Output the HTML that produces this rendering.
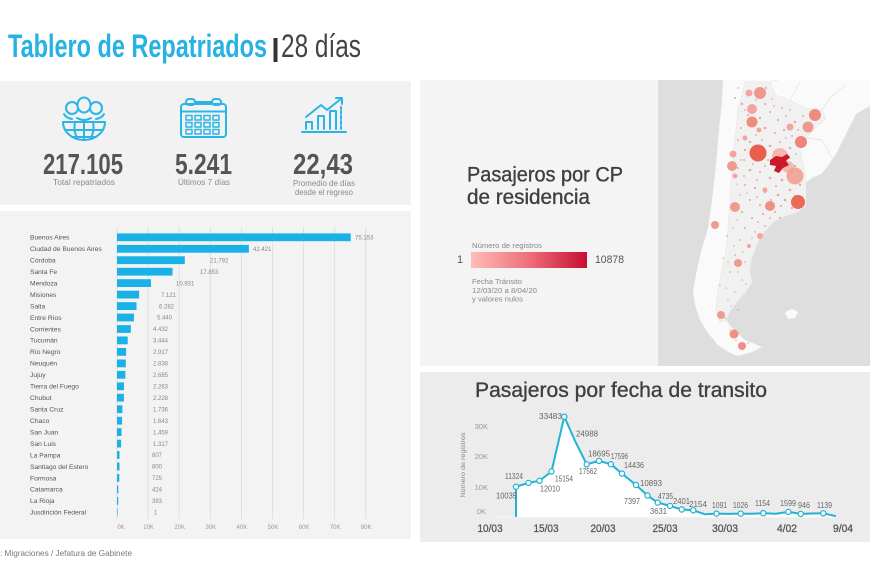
<!DOCTYPE html>
<html><head><meta charset="utf-8"><style>
html,body{margin:0;padding:0;background:#fff;}
svg{display:block;}
</style></head><body>
<svg width="870" height="580" viewBox="0 0 870 580" xmlns="http://www.w3.org/2000/svg" font-family="'Liberation Sans', sans-serif">
<defs>
<linearGradient id="lg" x1="0" x2="1" y1="0" y2="0">
<stop offset="0" stop-color="#fdbdb5"/><stop offset="0.5" stop-color="#ef6f79"/><stop offset="1" stop-color="#c70d33"/>
</linearGradient>
</defs>
<rect width="870" height="580" fill="#fff"/>

<!-- Title -->
<text x="8" y="57" font-size="32" font-weight="bold" fill="#27b2e2" textLength="259" lengthAdjust="spacingAndGlyphs">Tablero de Repatriados</text>
<rect x="273.5" y="38" width="4" height="24" fill="#333"/>
<text x="281" y="57" font-size="32" fill="#444" textLength="80" lengthAdjust="spacingAndGlyphs">28 días</text>

<!-- KPI panel -->
<rect x="0" y="81" width="411" height="124" fill="#f2f2f2"/>
<g fill="none" stroke="#29b6e6" stroke-width="2" stroke-linejoin="round" stroke-linecap="round">
  <circle cx="72" cy="108" r="6"/>
  <circle cx="96" cy="108" r="6"/>
  <ellipse cx="84" cy="105" rx="6.5" ry="7.5" fill="#f2f2f2"/>
  <path d="M64,114 Q66,118 72,119 M104,114 Q102,118 96,119 M77,118 Q84,122 91,118"/>
  <path d="M63,122 A21,18 0 0 0 105,122 Z" fill="#f2f2f2"/>
  <path d="M66,130 H102 M72,137 H96 M84,122 V140 M75,122 Q73,132 78,139 M93,122 Q95,132 90,139"/>
  <rect x="181" y="104" width="45" height="33" rx="3"/>
  <line x1="181" y1="111.5" x2="226" y2="111.5"/>
  <rect x="186" y="99" width="9" height="6" rx="3"/>
  <rect x="212" y="99" width="9" height="6" rx="3"/>
  <line x1="195" y1="102" x2="212" y2="102"/>
  <g stroke-width="1.5">
    <rect x="186" y="115.5" width="6" height="4.5"/><rect x="195" y="115.5" width="6" height="4.5"/><rect x="204" y="115.5" width="6" height="4.5"/><rect x="213" y="115.5" width="6" height="4.5"/>
    <rect x="186" y="122.5" width="6" height="4.5"/><rect x="195" y="122.5" width="6" height="4.5"/><rect x="204" y="122.5" width="6" height="4.5"/><rect x="213" y="122.5" width="6" height="4.5"/>
    <rect x="186" y="129.5" width="6" height="4.5"/><rect x="195" y="129.5" width="6" height="4.5"/><rect x="204" y="129.5" width="6" height="4.5"/><rect x="213" y="129.5" width="6" height="4.5"/>
  </g>
  <line x1="302" y1="132" x2="346" y2="132"/>
  <path d="M306,129 V122 H312 V129 M318,129 V116 H324 V129 M330,129 V111 H336 V129"/>
  <path d="M341,129 V107" stroke-dasharray="3,2"/>
  <path d="M306,117 L321,105 L327,110 L342,98"/>
  <path d="M336,98 H342 V104"/>
</g>
<g font-weight="bold" fill="#555" font-size="29" text-anchor="middle">
  <text x="83" y="174" textLength="80" lengthAdjust="spacingAndGlyphs">217.105</text>
  <text x="203.5" y="174" textLength="57" lengthAdjust="spacingAndGlyphs">5.241</text>
  <text x="323" y="174" textLength="60" lengthAdjust="spacingAndGlyphs">22,43</text>
</g>
<g fill="#8a8a8a" font-size="8" text-anchor="middle">
  <text x="84" y="185" textLength="62" lengthAdjust="spacingAndGlyphs">Total repatriados</text>
  <text x="204" y="185" textLength="52" lengthAdjust="spacingAndGlyphs">Últimos 7 días</text>
  <text x="324" y="186" textLength="62" lengthAdjust="spacingAndGlyphs">Promedio de días</text>
  <text x="324" y="195" textLength="58" lengthAdjust="spacingAndGlyphs">desde el regreso</text>
</g>

<!-- Bar chart panel -->
<rect x="0" y="211" width="411" height="328" fill="#f3f3f3"/>
<g stroke="#dadada" stroke-width="0.8">
  <line x1="117" y1="227" x2="117" y2="519"/>
  <line x1="148.1" y1="227" x2="148.1" y2="519"/>
  <line x1="179.2" y1="227" x2="179.2" y2="519"/>
  <line x1="210.3" y1="227" x2="210.3" y2="519"/>
  <line x1="241.4" y1="227" x2="241.4" y2="519"/>
  <line x1="272.5" y1="227" x2="272.5" y2="519"/>
  <line x1="303.6" y1="227" x2="303.6" y2="519"/>
  <line x1="334.7" y1="227" x2="334.7" y2="519"/>
  <line x1="365.8" y1="227" x2="365.8" y2="519"/>
</g>
<g fill="#999" font-size="6" text-anchor="middle">
  <text x="121" y="529">0K</text><text x="148.6" y="529">10K</text><text x="179.7" y="529">20K</text><text x="210.8" y="529">30K</text><text x="241.9" y="529">40K</text><text x="273" y="529">50K</text><text x="304.1" y="529">60K</text><text x="335.2" y="529">70K</text><text x="366.3" y="529">80K</text>
</g>
<g fill="#1ab2e6">
  <rect x="117" y="233.4" width="233.7" height="7.8"/>
  <rect x="117" y="244.9" width="131.9" height="7.8"/>
  <rect x="117" y="256.3" width="67.8" height="7.8"/>
  <rect x="117" y="267.8" width="55.5" height="7.8"/>
  <rect x="117" y="279.2" width="34.0" height="7.8"/>
  <rect x="117" y="290.7" width="22.1" height="7.8"/>
  <rect x="117" y="302.2" width="19.5" height="7.8"/>
  <rect x="117" y="313.6" width="16.9" height="7.8"/>
  <rect x="117" y="325.1" width="13.8" height="7.8"/>
  <rect x="117" y="336.5" width="10.7" height="7.8"/>
  <rect x="117" y="348.0" width="9.1" height="7.8"/>
  <rect x="117" y="359.5" width="8.8" height="7.8"/>
  <rect x="117" y="370.9" width="8.4" height="7.8"/>
  <rect x="117" y="382.4" width="7.0" height="7.8"/>
  <rect x="117" y="393.8" width="6.9" height="7.8"/>
  <rect x="117" y="405.3" width="5.4" height="7.8"/>
  <rect x="117" y="416.8" width="5.1" height="7.8"/>
  <rect x="117" y="428.2" width="4.5" height="7.8"/>
  <rect x="117" y="439.7" width="4.1" height="7.8"/>
  <rect x="117" y="451.1" width="2.5" height="7.8"/>
  <rect x="117" y="462.6" width="2.5" height="7.8"/>
  <rect x="117" y="474.1" width="2.3" height="7.8"/>
  <rect x="117" y="485.5" width="1.3" height="7.8"/>
  <rect x="117" y="497.0" width="1.2" height="7.8"/>
  <rect x="117" y="508.4" width="0.6" height="7.8"/>
</g>
<g fill="#555" font-size="6.7">
  <text x="30" y="239.6">Buenos Aires</text>
  <text x="30" y="251.1">Ciudad de Buenos Aires</text>
  <text x="30" y="262.5">Córdoba</text>
  <text x="30" y="274.0">Santa Fe</text>
  <text x="30" y="285.4">Mendoza</text>
  <text x="30" y="296.9">Misiones</text>
  <text x="30" y="308.4">Salta</text>
  <text x="30" y="319.8">Entre Ríos</text>
  <text x="30" y="331.3">Corrientes</text>
  <text x="30" y="342.7">Tucumán</text>
  <text x="30" y="354.2">Río Negro</text>
  <text x="30" y="365.7">Neuquén</text>
  <text x="30" y="377.1">Jujuy</text>
  <text x="30" y="388.6">Tierra del Fuego</text>
  <text x="30" y="400.0">Chubut</text>
  <text x="30" y="411.5">Santa Cruz</text>
  <text x="30" y="423.0">Chaco</text>
  <text x="30" y="434.4">San Juan</text>
  <text x="30" y="445.9">San Luis</text>
  <text x="30" y="457.3">La Pampa</text>
  <text x="30" y="468.8">Santiago del Estero</text>
  <text x="30" y="480.3">Formosa</text>
  <text x="30" y="491.7">Catamarca</text>
  <text x="30" y="503.2">La Rioja</text>
  <text x="30" y="514.6">Jusdirición Federal</text>
</g>
<g fill="#888" font-size="6">
  <text x="355" y="239.5">75.153</text>
  <text x="253" y="251.0">42.421</text>
  <text x="210" y="262.4">21.792</text>
  <text x="200" y="273.9">17.853</text>
  <text x="176" y="285.3">10.931</text>
  <text x="161" y="296.8">7.121</text>
  <text x="159" y="308.3">6.282</text>
  <text x="157" y="319.7">5.440</text>
  <text x="153" y="331.2">4.432</text>
  <text x="153" y="342.6">3.444</text>
  <text x="153" y="354.1">2.917</text>
  <text x="153" y="365.6">2.838</text>
  <text x="153" y="377.0">2.685</text>
  <text x="153" y="388.5">2.263</text>
  <text x="153" y="399.9">2.228</text>
  <text x="153" y="411.4">1.736</text>
  <text x="153" y="422.9">1.643</text>
  <text x="153" y="434.3">1.459</text>
  <text x="153" y="445.8">1.317</text>
  <text x="152" y="457.2">807</text>
  <text x="152" y="468.7">800</text>
  <text x="152" y="480.2">725</text>
  <text x="152" y="491.6">424</text>
  <text x="152" y="503.1">393</text>
  <text x="154" y="514.5">1</text>
</g>

<!-- Footer -->
<text x="0" y="556" font-size="8" fill="#777" textLength="132" lengthAdjust="spacingAndGlyphs">: Migraciones / Jefatura de Gabinete</text>

<!-- Map panel -->
<rect x="420" y="80" width="450" height="286" fill="#f4f4f4"/>
<rect x="658" y="80" width="212" height="286" fill="#dedede"/>
<path d="M723,80 L870,80 L870,106 L856,114 L846,134 L836,154 L828,166 L821,174 L812,178 L804,184 L806,192 L806,206 L798,212 L786,216 L774,222 L766,230 L760,238 L756,248 L752,258 L750,270 L752,282 L746,292 L737,302 L730,312 L726,320 L732,328 L745,340 L762,347 L752,352 L738,356 L728,352 L718,345 L708,333 L700,320 L695,305 L693,290 L697,270 L701,252 L708,228 L712,200 L716,165 L719,130 L722,100 Z" fill="#fafafa"/>
<path d="M745,82 L770,82 L775,95 L790,100 L805,108 L822,110 L826,118 L815,128 L806,138 L800,150 L803,165 L806,180 L806,206 L798,212 L786,216 L774,222 L766,230 L760,238 L756,248 L752,258 L750,270 L752,282 L746,292 L737,302 L730,312 L726,320 L720,322 L716,310 L718,290 L722,270 L726,250 L728,230 L730,200 L732,170 L735,140 L738,110 L742,95 Z" fill="#f1f1f1" stroke="#e4e4e4" stroke-width="0.6"/>
<path d="M770,82 L778,80 M790,100 L800,82 M822,110 L830,98 L845,85 M806,138 L822,140 L832,158" fill="none" stroke="#e2e2e2" stroke-width="0.7"/>
<path d="M785,312 L792,309 L798,312 L795,318 L788,319 Z" fill="#fafafa"/>
<g fill="#e57373" opacity="0.6">
<circle cx="735" cy="98" r="1"/><circle cx="742" cy="104" r="1.2"/><circle cx="756" cy="100" r="0.9"/><circle cx="765" cy="104" r="1.1"/><circle cx="772" cy="99" r="0.9"/><circle cx="748" cy="115" r="1"/><circle cx="760" cy="118" r="1.2"/><circle cx="770" cy="112" r="1"/><circle cx="778" cy="120" r="1.1"/><circle cx="786" cy="116" r="0.9"/><circle cx="795" cy="122" r="1.2"/><circle cx="741" cy="128" r="1"/><circle cx="765" cy="128" r="1.3"/><circle cx="775" cy="133" r="1"/><circle cx="784" cy="130" r="1.1"/><circle cx="792" cy="136" r="1"/><circle cx="738" cy="140" r="1"/><circle cx="750" cy="142" r="1.2"/><circle cx="762" cy="140" r="1"/><circle cx="770" cy="146" r="1.3"/><circle cx="780" cy="142" r="1"/><circle cx="790" cy="148" r="1.2"/><circle cx="797" cy="144" r="1"/><circle cx="733" cy="152" r="0.9"/><circle cx="745" cy="150" r="1.1"/><circle cx="768" cy="160" r="1"/><circle cx="789" cy="158" r="1.2"/><circle cx="738" cy="168" r="1"/><circle cx="750" cy="170" r="1.3"/><circle cx="760" cy="172" r="1"/><circle cx="770" cy="178" r="1.2"/><circle cx="782" cy="180" r="1.4"/><circle cx="745" cy="185" r="1"/><circle cx="755" cy="188" r="1.1"/><circle cx="765" cy="192" r="1.2"/><circle cx="778" cy="195" r="1.3"/><circle cx="790" cy="190" r="1.2"/><circle cx="740" cy="195" r="0.9"/><circle cx="750" cy="200" r="1"/><circle cx="760" cy="205" r="1"/><circle cx="785" cy="200" r="1.3"/><circle cx="742" cy="212" r="1"/><circle cx="752" cy="218" r="1"/><circle cx="763" cy="214" r="1.1"/><circle cx="775" cy="212" r="1"/><circle cx="745" cy="228" r="1"/><circle cx="755" cy="232" r="0.9"/><circle cx="765" cy="226" r="1"/><circle cx="740" cy="240" r="0.9"/><circle cx="750" cy="246" r="0.9"/><circle cx="735" cy="255" r="0.9"/><circle cx="745" cy="262" r="0.8"/><circle cx="730" cy="272" r="0.9"/><circle cx="742" cy="280" r="0.8"/><circle cx="735" cy="292" r="0.8"/><circle cx="728" cy="300" r="0.8"/><circle cx="738" cy="310" r="0.8"/><circle cx="725" cy="318" r="0.8"/><circle cx="730" cy="330" r="0.8"/><circle cx="753" cy="108" r="1"/><circle cx="782" cy="108" r="1"/><circle cx="798" cy="130" r="1"/><circle cx="776" cy="170" r="1.1"/><circle cx="795" cy="166" r="1.2"/><circle cx="800" cy="185" r="1.2"/><circle cx="792" cy="208" r="1.1"/><circle cx="780" cy="218" r="1"/><circle cx="727" cy="236" r="0.9"/><circle cx="723" cy="258" r="0.8"/><circle cx="720" cy="285" r="0.8"/><circle cx="744" cy="160" r="1"/><circle cx="757" cy="180" r="1"/><circle cx="771" cy="200" r="1"/><circle cx="788" cy="176" r="1"/><circle cx="748" cy="125" r="1"/>
<circle cx="738" cy="88" r="0.9"/><circle cx="766" cy="88" r="1"/><circle cx="745" cy="110" r="0.9"/><circle cx="774" cy="106" r="0.9"/><circle cx="790" cy="110" r="0.9"/><circle cx="803" cy="116" r="1"/><circle cx="756" cy="135" r="0.9"/><circle cx="786" cy="138" r="0.9"/><circle cx="774" cy="152" r="0.9"/><circle cx="741" cy="160" r="0.9"/><circle cx="753" cy="164" r="0.9"/><circle cx="765" cy="166" r="1"/><circle cx="796" cy="154" r="0.9"/><circle cx="744" cy="176" r="0.9"/><circle cx="776" cy="186" r="1"/><circle cx="795" cy="196" r="1"/><circle cx="737" cy="184" r="0.8"/><circle cx="747" cy="193" r="0.8"/><circle cx="757" cy="197" r="0.9"/><circle cx="781" cy="206" r="1"/><circle cx="737" cy="220" r="0.8"/><circle cx="758" cy="222" r="0.9"/><circle cx="770" cy="218" r="0.9"/><circle cx="733" cy="228" r="0.8"/><circle cx="752" cy="238" r="0.8"/><circle cx="734" cy="246" r="0.8"/><circle cx="743" cy="252" r="0.8"/><circle cx="728" cy="262" r="0.8"/><circle cx="738" cy="272" r="0.8"/><circle cx="746" cy="284" r="0.8"/><circle cx="726" cy="288" r="0.8"/><circle cx="731" cy="306" r="0.8"/><circle cx="736" cy="340" r="0.8"/><circle cx="748" cy="343" r="0.8"/></g>
<g>
<circle cx="760" cy="93" r="6" fill="#f1968b"/>
<circle cx="749" cy="93" r="3.5" fill="#f4a59b"/>
<circle cx="752" cy="109" r="5" fill="#f4a59b"/>
<circle cx="752" cy="122" r="5.5" fill="#ef8b80"/>
<circle cx="815" cy="115" r="6" fill="#ef8b80"/>
<circle cx="808" cy="127" r="5.5" fill="#f09a8f"/>
<circle cx="790" cy="127" r="3.5" fill="#f4a59b"/>
<circle cx="759" cy="130" r="2.5" fill="#f4a59b"/>
<circle cx="801" cy="142" r="6" fill="#ef8579"/>
<circle cx="733" cy="154" r="3.5" fill="#f4a59b"/>
<circle cx="732" cy="166" r="5" fill="#f19a8f"/>
<circle cx="735" cy="176" r="2.5" fill="#f4a59b"/>
<circle cx="735" cy="207" r="5" fill="#f19a8f"/>
<circle cx="770" cy="206" r="5" fill="#f08f84"/>
<circle cx="745" cy="138" r="2.5" fill="#f4a59b"/>
<circle cx="715" cy="225" r="4" fill="#f19a8f"/>
<circle cx="760" cy="236" r="3" fill="#f4a59b"/>
<circle cx="749" cy="246" r="2" fill="#f4a59b"/>
<circle cx="738" cy="263" r="4" fill="#f19a8f"/>
<circle cx="721" cy="315" r="4" fill="#f19a8f"/>
<circle cx="734" cy="334" r="4.5" fill="#f08f84"/>
<circle cx="742" cy="346" r="4" fill="#f08f84"/>
<circle cx="765" cy="190" r="2.5" fill="#f4a59b"/>
<circle cx="758" cy="153" r="8.5" fill="#e8604c"/>
<circle cx="780" cy="156" r="8" fill="#f6b0a8" opacity="0.9"/>
<circle cx="788" cy="167" r="6" fill="#f5b3aa" opacity="0.9"/>
<path d="M770,160 L776,156 L782,157 L787,154 L790,157 L786,161 L789,165 L783,168 L779,173 L774,171 L776,166 L770,165 Z" fill="#cc1a2a"/>
<circle cx="795" cy="176" r="8.5" fill="#f29a90" opacity="0.85"/>
<circle cx="798" cy="202" r="7" fill="#e96a57"/>
</g>

<!-- Map legend -->
<text x="467" y="181.5" font-size="21" fill="#3f3f3f" stroke="#3f3f3f" stroke-width="0.35" textLength="156" lengthAdjust="spacingAndGlyphs">Pasajeros por CP</text>
<text x="467" y="204" font-size="21" fill="#3f3f3f" stroke="#3f3f3f" stroke-width="0.35" textLength="123" lengthAdjust="spacingAndGlyphs">de residencia</text>
<text x="472" y="248" font-size="7" fill="#888" textLength="70" lengthAdjust="spacingAndGlyphs">Número de registros</text>
<text x="457" y="263" font-size="11" fill="#555">1</text>
<rect x="471" y="252" width="116" height="16" fill="url(#lg)"/>
<text x="595" y="263" font-size="11" fill="#555" textLength="29" lengthAdjust="spacingAndGlyphs">10878</text>
<g font-size="7" fill="#888">
<text x="472" y="284" textLength="50" lengthAdjust="spacingAndGlyphs">Fecha Tránsito</text>
<text x="472" y="293" textLength="65" lengthAdjust="spacingAndGlyphs">12/03/20 a 8/04/20</text>
<text x="472" y="301.5" textLength="51" lengthAdjust="spacingAndGlyphs">y valores nulos</text>
</g>

<!-- Line chart panel -->
<rect x="420" y="372" width="450" height="170" fill="#ececec"/>
<text x="475" y="397" font-size="21" fill="#3f3f3f" stroke="#3f3f3f" stroke-width="0.35" textLength="292" lengthAdjust="spacingAndGlyphs">Pasajeros por fecha de transito</text>
<text transform="translate(465,465) rotate(-90)" x="0" y="0" font-size="6.5" fill="#888" text-anchor="middle" textLength="65" lengthAdjust="spacingAndGlyphs">Número de registros</text>
<g font-size="7.5" fill="#999" text-anchor="end">
<text x="488" y="429">30K</text><text x="488" y="459">20K</text><text x="488" y="490">10K</text><text x="486" y="514">0K</text>
</g>
<path d="M516,517 L516,486.7 L528.5,482.9 L539.5,480.8 L551.5,471.5 L564.3,416.7 L575.6,442.1 L586.7,464.3 L599,460.9 L610.8,464.2 L622,473.6 L636,485 L647.5,495.5 L657.7,502.6 L670,505.9 L681.7,509.5 L693.3,510.3 L705,514.3 L716.5,513.6 L728.5,513.9 L740.7,513.6 L752,513.8 L763.3,513.2 L776,513.8 L788.3,511.9 L800.7,513.9 L812,513.5 L823.3,513.3 L836,516.2 L836,517 Z" fill="#fff"/>
<line x1="494" y1="517" x2="838" y2="517" stroke="#f7f7f7" stroke-width="1"/>
<path d="M516,517 L516,486.7 L528.5,482.9 L539.5,480.8 L551.5,471.5 L564.3,416.7 L575.6,442.1 L586.7,464.3 L599,460.9 L610.8,464.2 L622,473.6 L636,485 L647.5,495.5 L657.7,502.6 L670,505.9 L681.7,509.5 L693.3,510.3 L705,514.3 L716.5,513.6 L728.5,513.9 L740.7,513.6 L752,513.8 L763.3,513.2 L776,513.8 L788.3,511.9 L800.7,513.9 L812,513.5 L823.3,513.3 L836,516.2" fill="none" stroke="#1fb3d4" stroke-width="2" stroke-linejoin="round"/>
<g fill="#fff" stroke="#1fb3d4" stroke-width="1.2">
<circle cx="516" cy="486.7" r="2.6"/><circle cx="528.5" cy="482.9" r="2.6"/><circle cx="539.5" cy="480.8" r="2.6"/><circle cx="551.5" cy="471.5" r="2.6"/><circle cx="564.3" cy="416.7" r="2.6"/><circle cx="586.7" cy="464.3" r="2.6"/><circle cx="599" cy="460.9" r="2.6"/><circle cx="610.8" cy="464.2" r="2.6"/><circle cx="622" cy="473.6" r="2.6"/><circle cx="636" cy="485" r="2.6"/><circle cx="647.5" cy="495.5" r="2.6"/><circle cx="657.7" cy="502.6" r="2.6"/><circle cx="670" cy="505.9" r="2.6"/><circle cx="681.7" cy="509.5" r="2.6"/><circle cx="693.3" cy="510.3" r="2.6"/><circle cx="716.5" cy="513.6" r="2.6"/><circle cx="740.7" cy="513.6" r="2.6"/><circle cx="763.3" cy="513.2" r="2.6"/><circle cx="788.3" cy="511.9" r="2.6"/><circle cx="800.7" cy="513.9" r="2.6"/><circle cx="823.3" cy="513.3" r="2.6"/>
</g>
<g font-size="8" fill="#666">
<text x="539" y="419" textLength="23" lengthAdjust="spacingAndGlyphs">33483</text>
<text x="576" y="436.5" textLength="22" lengthAdjust="spacingAndGlyphs">24988</text>
<text x="505" y="479" textLength="18" lengthAdjust="spacingAndGlyphs">11324</text>
<text x="496" y="498.5" textLength="21" lengthAdjust="spacingAndGlyphs">10035</text>
<text x="540" y="491.5" textLength="20" lengthAdjust="spacingAndGlyphs">12010</text>
<text x="555" y="481.5" textLength="18" lengthAdjust="spacingAndGlyphs">15154</text>
<text x="579" y="474" textLength="18" lengthAdjust="spacingAndGlyphs">17562</text>
<text x="588" y="456.5" textLength="22" lengthAdjust="spacingAndGlyphs">18695</text>
<text x="611" y="459" textLength="17" lengthAdjust="spacingAndGlyphs">17596</text>
<text x="624" y="468" textLength="20" lengthAdjust="spacingAndGlyphs">14436</text>
<text x="640" y="486" textLength="22" lengthAdjust="spacingAndGlyphs">10893</text>
<text x="624" y="504" textLength="16" lengthAdjust="spacingAndGlyphs">7397</text>
<text x="658" y="499" textLength="15" lengthAdjust="spacingAndGlyphs">4735</text>
<text x="650" y="514" textLength="17" lengthAdjust="spacingAndGlyphs">3631</text>
<text x="673" y="504" textLength="17" lengthAdjust="spacingAndGlyphs">2401</text>
<text x="689" y="507" textLength="18" lengthAdjust="spacingAndGlyphs">2154</text>
<text x="712" y="508" textLength="15" lengthAdjust="spacingAndGlyphs">1091</text>
<text x="733" y="508" textLength="15" lengthAdjust="spacingAndGlyphs">1026</text>
<text x="755" y="506" textLength="15" lengthAdjust="spacingAndGlyphs">1154</text>
<text x="780" y="506" textLength="16" lengthAdjust="spacingAndGlyphs">1599</text>
<text x="798" y="508" textLength="12" lengthAdjust="spacingAndGlyphs">946</text>
<text x="817" y="508" textLength="15" lengthAdjust="spacingAndGlyphs">1139</text>
</g>
<g font-size="11" fill="#555" stroke="#555" stroke-width="0.3" text-anchor="middle">
<text x="490" y="532" textLength="25" lengthAdjust="spacingAndGlyphs">10/03</text>
<text x="546" y="532" textLength="25" lengthAdjust="spacingAndGlyphs">15/03</text>
<text x="603" y="532" textLength="25" lengthAdjust="spacingAndGlyphs">20/03</text>
<text x="665" y="532" textLength="25" lengthAdjust="spacingAndGlyphs">25/03</text>
<text x="725" y="532" textLength="26" lengthAdjust="spacingAndGlyphs">30/03</text>
<text x="787" y="532" textLength="20" lengthAdjust="spacingAndGlyphs">4/02</text>
<text x="843" y="532" textLength="20" lengthAdjust="spacingAndGlyphs">9/04</text>
</g>
</svg>
</body></html>
